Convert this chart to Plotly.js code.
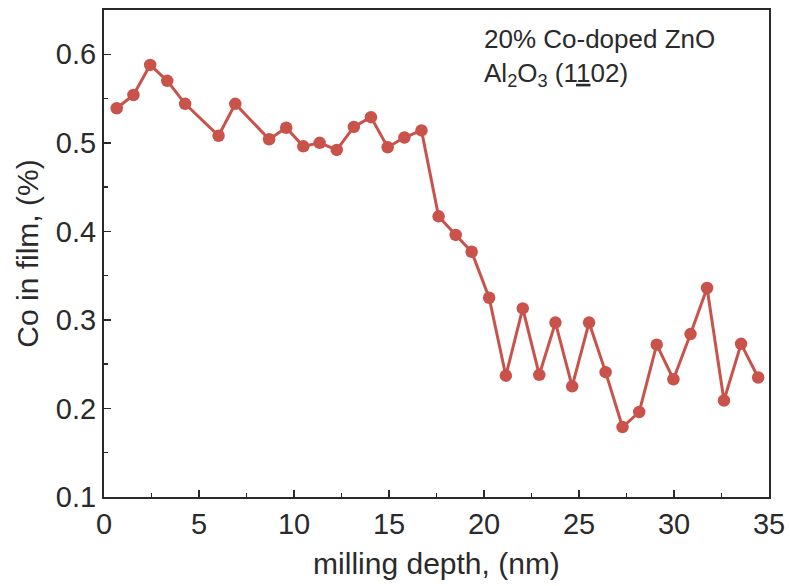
<!DOCTYPE html>
<html>
<head>
<meta charset="utf-8">
<script src="https://cdn.plot.ly/plotly-3.0.1.min.js"></script>
<style>html,body{margin:0;padding:0;background:#fff;}#chart{width:790px;height:586px;}</style>
</head>
<body>
<div id="chart"></div>
<script>
var depthNm = [0.67, 1.55, 2.43, 3.33, 4.27, 6.03, 6.91, 8.69, 9.59, 10.49, 11.35, 12.25, 13.15, 14.05, 14.93, 15.81, 16.71,
  17.61, 18.51, 19.35, 20.27, 21.15, 22.04, 22.91, 23.76, 24.64, 25.53, 26.40, 27.29, 28.17, 29.09, 29.97, 30.87, 31.74, 32.63, 33.53, 34.43];
var coInFilm = [0.539, 0.554, 0.588, 0.570, 0.544, 0.508, 0.544, 0.504, 0.517, 0.496, 0.500, 0.492, 0.518, 0.529, 0.495, 0.506, 0.514,
  0.417, 0.396, 0.377, 0.325, 0.237, 0.313, 0.238, 0.297, 0.225, 0.297, 0.241, 0.179, 0.196, 0.272, 0.233, 0.284, 0.336, 0.209, 0.273, 0.235];
var xTicks = [0, 5, 10, 15, 20, 25, 30, 35];
var yTicks = [0.1, 0.2, 0.3, 0.4, 0.5, 0.6];
var annotationLines = ["20% Co-doped ZnO", "Al<sub>2</sub>O<sub>3</sub> (1<u>1</u>02)"];

var red = "#c9534b";
var ink = "#2a2a2a";
var font = "Liberation Sans, Arial, sans-serif";

var trace = {
  x: depthNm, y: coInFilm, type: "scatter", mode: "lines+markers",
  line: {color: red, width: 3},
  marker: {color: red, size: 12.5},
  showlegend: false, hoverinfo: "x+y"
};

var axisCommon = {
  showgrid: false, zeroline: false, showline: true, mirror: true,
  linecolor: ink, linewidth: 2, ticks: "inside", ticklen: 7, tickwidth: 1.5, tickcolor: ink,
  tickfont: {family: font, size: 29, color: ink}
};

var layout = {
  width: 790, height: 586,
  margin: {l: 104, r: 21, t: 10, b: 89},
  paper_bgcolor: "#ffffff", plot_bgcolor: "#ffffff",
  font: {family: font, color: ink},
  xaxis: Object.assign({}, axisCommon, {
    range: [0, 35], tickvals: xTicks, ticktext: xTicks.map(String),
    minor: {dtick: 2.5, tick0: 0, ticks: "inside", ticklen: 4, tickwidth: 1.5, tickcolor: ink},
    title: {text: "milling depth, (nm)", font: {family: font, size: 30, color: ink}, standoff: 14}
  }),
  yaxis: Object.assign({}, axisCommon, {
    range: [0.1, 0.65], tickvals: yTicks, ticktext: yTicks.map(function(v){return v.toFixed(1);}),
    minor: {dtick: 0.05, tick0: 0.1, ticks: "inside", ticklen: 4, tickwidth: 1.5, tickcolor: ink},
    title: {text: "Co in film, (%)", font: {family: font, size: 30, color: ink}, standoff: 8}
  }),
  annotations: [
    {xref: "paper", yref: "paper", x: 0.568, y: 0.975, xanchor: "left", yanchor: "top", align: "left",
     showarrow: false, text: annotationLines.join("<br>"), font: {family: font, size: 26, color: ink}}
  ]
};

Plotly.newPlot("chart", [trace], layout, {displayModeBar: false, staticPlot: true});
</script>
</body>
</html>
